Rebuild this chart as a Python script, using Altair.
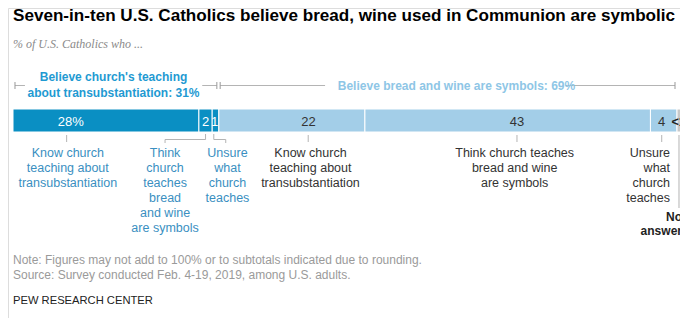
import altair as alt
import pandas as pd

# ---------------- data ----------------
title = "Seven-in-ten U.S. Catholics believe bread, wine used in Communion are symbolic"
subtitle = "% of U.S. Catholics who ..."
segments = [
    "Know church teaching about transubstantiation (believe)",
    "Think church teaches bread and wine are symbols (believe)",
    "Unsure what church teaches (believe)",
    "Know church teaching about transubstantiation (symbols)",
    "Think church teaches bread and wine are symbols (symbols)",
    "Unsure what church teaches (symbols)",
    "No answer",
]
shades = ["believe", "believe", "believe", "symbols", "symbols", "symbols", "none"]
values = [28, 2, 1, 22, 43, 4, 1]          # "<1" drawn as a sliver
value_labels = ["28%", "2", "1", "22", "43", "4", "<1"]
segment_labels = [
    "Know church\nteaching about\ntransubstantiation",
    "Think\nchurch\nteaches\nbread\nand wine\nare symbols",
    "Unsure\nwhat\nchurch\nteaches",
    "Know church\nteaching about\ntransubstantiation",
    "Think church teaches\nbread and wine\nare symbols",
    "Unsure\nwhat\nchurch\nteaches",
    "No\nanswer",
]
group_headers = ["Believe church's teaching\nabout transubstantiation: 31%",
                 "Believe bread and wine are symbols: 69%"]
note = "Note: Figures may not add to 100% or to subtotals indicated due to rounding."
source = "Source: Survey conducted Feb. 4-19, 2019, among U.S. adults."
credit = "PEW RESEARCH CENTER"

# ---------------- annotation positions (x in % units) ----------------
num_x = [8.7, 29.0, 30.35, 44.5, 75.9, 97.7]
lab_x = [8.25, 22.9, 32.3, 44.8, 75.55, 98.95, 100.75]
tick_x = [8.08, 44.46, 75.9, 97.7]

DARK = "#0a8fc3"
LIGHT = "#a3cee8"
GREY = "#c8c8c8"
BLUE_TXT = "#3a8fc1"
HEAD1 = "#1f9ad2"
HEAD2 = "#8ec6e6"
LINE = "#b4b4b4"
FONT = "Liberation Sans"

W, H = 672, 310
PX = 6.64  # pixels per percentage point
xs = alt.Scale(domain=[-5 / PX, (W - 5) / PX], nice=False, zero=False)


def X(field):
    return alt.X(field, type="quantitative", scale=xs, axis=None)


starts, ends, acc = [], [], 0
for v in values:
    starts.append(acc)
    acc += v
    ends.append(acc)

bar_df = pd.DataFrame({"segment": segments, "shade": shades, "start": starts, "end": ends})
bar_color = {"believe": DARK, "symbols": LIGHT, "none": GREY}

bars = [
    alt.Chart(bar_df[bar_df["shade"] == s]).mark_bar(stroke="white", strokeWidth=1, color=c).encode(
        x=X("start"), x2="end", y=alt.value(101), y2=alt.value(124))
    for s, c in bar_color.items()
]

num_df = pd.DataFrame({"x": num_x, "t": value_labels[:6]})
nums_w = alt.Chart(num_df.iloc[:3]).mark_text(font=FONT, fontSize=13, baseline="alphabetic",
                                              color="white").encode(
    x=X("x"), y=alt.value(118), text="t:N")
nums_d = alt.Chart(num_df.iloc[3:]).mark_text(font=FONT, fontSize=13, baseline="alphabetic",
                                              color="#333333").encode(
    x=X("x"), y=alt.value(118), text="t:N")
lt1 = alt.Chart(pd.DataFrame({"t": [value_labels[6]]})).mark_text(
    font=FONT, fontSize=12.5, fontWeight="bold", align="left", baseline="alphabetic", color="#222222"
).encode(x=alt.value(663.5), y=alt.value(118), text="t:N")

# ticks below the bar
ticks = alt.Chart(pd.DataFrame({"x": tick_x})).mark_rule(color=LINE, strokeWidth=1).encode(
    x=X("x"), y=alt.value(127), y2=alt.value(134))
hrules = alt.Chart(pd.DataFrame({"x": [22.9, 30.24], "x2": [29.0, 32.04]})).mark_rule(
    color=LINE, strokeWidth=1).encode(x=X("x"), x2="x2", y=alt.value(131.5))
vup = alt.Chart(pd.DataFrame({"x": [29.0, 30.24]})).mark_rule(color=LINE, strokeWidth=1).encode(
    x=X("x"), y=alt.value(126), y2=alt.value(131.5))
vdn = alt.Chart(pd.DataFrame({"x": [22.9, 32.04]})).mark_rule(color=LINE, strokeWidth=1).encode(
    x=X("x"), y=alt.value(131.5), y2=alt.value(135))
noans = alt.Chart(pd.DataFrame({"x": [100.3]})).mark_rule(color=LINE, strokeWidth=1).encode(
    x=X("x"), y=alt.value(127), y2=alt.value(200))

# labels below
lab_df = pd.DataFrame({"x": lab_x, "t": segment_labels})
labs_b = alt.Chart(lab_df.iloc[:3]).mark_text(font=FONT, fontSize=12.5, baseline="alphabetic",
                                              lineBreak="\n", lineHeight=15, color=BLUE_TXT).encode(
    x=X("x"), y=alt.value(149), text="t:N")
labs_k = alt.Chart(lab_df.iloc[3:5]).mark_text(font=FONT, fontSize=12.5, baseline="alphabetic",
                                               lineBreak="\n", lineHeight=15, color="#333333").encode(
    x=X("x"), y=alt.value(149), text="t:N")
lab_r = alt.Chart(lab_df.iloc[5:6]).mark_text(
    font=FONT, fontSize=12.5, baseline="alphabetic", align="right", lineBreak="\n", lineHeight=15,
    color="#333333").encode(x=X("x"), y=alt.value(149), text="t:N")
lab_na = alt.Chart(lab_df.iloc[6:7]).mark_text(
    font=FONT, fontSize=12, fontWeight="bold", baseline="alphabetic", align="right",
    lineBreak="\n", lineHeight=13.5, color="#222222").encode(x=X("x"), y=alt.value(213), text="t:N")

# group brackets
brs = alt.Chart(pd.DataFrame({"x": [0.3, 28.5, 31.2, 83.2], "x2": [1.8, 30.7, 47.0, 99.7]})).mark_rule(
    color=LINE, strokeWidth=1).encode(x=X("x"), x2="x2", y=alt.value(77.5))
brt = alt.Chart(pd.DataFrame({"x": [0.3, 30.7, 31.2, 99.7]})).mark_rule(color="#999999", strokeWidth=1).encode(
    x=X("x"), y=alt.value(74), y2=alt.value(81))
h1 = alt.Chart(pd.DataFrame({"t": [group_headers[0]]})).mark_text(
    font=FONT, fontSize=12, fontWeight="bold", baseline="alphabetic", lineBreak="\n",
    lineHeight=15.5, color=HEAD1).encode(x=alt.value(105.5), y=alt.value(73), text="t:N")
h2 = alt.Chart(pd.DataFrame({"t": [group_headers[1]]})).mark_text(
    font=FONT, fontSize=12, fontWeight="bold", baseline="alphabetic", color=HEAD2).encode(
    x=alt.value(448.5), y=alt.value(81.5), text="t:N")

# title, subtitle, footer
ttl = alt.Chart(pd.DataFrame({"t": [title]})).mark_text(
    font=FONT, fontSize=17.1, fontWeight="bold", align="left", baseline="alphabetic", color="#000000"
).encode(x=alt.value(5), y=alt.value(12.5), text="t:N")
sub = alt.Chart(pd.DataFrame({"t": [subtitle]})).mark_text(
    font="Liberation Serif", fontSize=12, fontStyle="italic", align="left", baseline="alphabetic",
    color="#8a8a8a").encode(x=alt.value(5), y=alt.value(39.5), text="t:N")
f1 = alt.Chart(pd.DataFrame({"t": [note]})).mark_text(
    font=FONT, fontSize=12, align="left", baseline="alphabetic", color="#9a9a9a").encode(
    x=alt.value(5), y=alt.value(255.5), text="t:N")
f2 = alt.Chart(pd.DataFrame({"t": [source]})).mark_text(
    font=FONT, fontSize=12, align="left", baseline="alphabetic", color="#9a9a9a").encode(
    x=alt.value(5), y=alt.value(271), text="t:N")
cred = alt.Chart(pd.DataFrame({"t": [credit]})).mark_text(
    font=FONT, fontSize=11.2, align="left", baseline="alphabetic", color="#222222").encode(
    x=alt.value(5), y=alt.value(296), text="t:N")

chart = alt.layer(
    brs, brt, h1, h2, *bars, nums_w, nums_d, lt1, ticks, hrules, vup, vdn, noans,
    labs_b, labs_k, lab_r, lab_na, ttl, sub, f1, f2, cred,
).properties(
    width=W, height=H, padding=0,
    autosize=alt.AutoSizeParams(type="none"),
).configure_view(stroke=None).configure(background="white")

chart.save("out.html", embed_options={"renderer": "svg", "actions": False})
